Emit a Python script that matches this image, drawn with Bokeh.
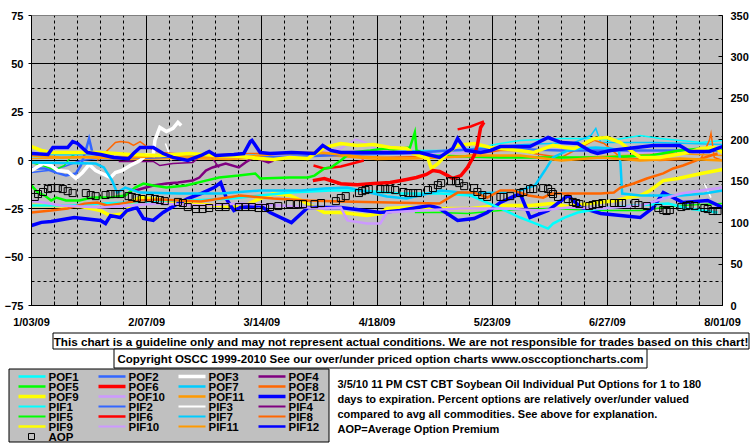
import math
from bokeh.plotting import figure
from bokeh.models import Range1d, LinearAxis, FixedTicker
from bokeh.layouts import column
from bokeh.embed import file_html
from bokeh.resources import INLINE
from bokeh.core.properties import value

NaN = float("nan")

# ---------------- axes / labels ----------------
x_tick_days = [0, 35, 70, 105, 140, 175, 210]
x_tick_labels = ["1/03/09", "2/07/09", "3/14/09", "4/18/09", "5/23/09", "6/27/09", "8/01/09"]
left_ticks = [-75, -50, -25, 0, 25, 50, 75]
right_ticks = [0, 50, 100, 150, 200, 250, 300, 350]

# ---------------- series (day offset from 1/03/09, percent) ----------------
POF1 = [(0,-23.3),(12,-23.3),(21,-22.3),(30,-21.7),(39,-20.7),(48.5,-20.7),(60.5,-19.7),(69.5,-18.1),(78.5,-16.6),(91,-15.5),(100,-15.5),(112,-17.1),(124.5,-17.1),(133.5,-18.1),(142.5,-24.8),(148.5,-29.5),(152.5,-32.1),(157,-35.2),(158.5,-32.6),(162,-29.5),(166,-26.9),(173,-24.8),(183,-23.3),(193.5,-22.3),(199.5,-24.8),(208.5,-26.9)]
POF2 = [(0,-4.1),(4,-4.1),(7.5,-6.2),(10.5,-7.8),(13.5,-6.7),(15,-2.6),(16.5,5.2),(17.5,11.4),(18.5,4.1),(21,2.1),(30,1.6),(36,1.6),(51.5,2.6),(66.5,1.6),(82,2.1),(97,3.1),(112,3.6),(127,5.2),(142.5,6.2),(161,5.2),(179,5.2),(197,5.2),(210,5.2)]
POF3 = [(0,-5.2),(3.5,-1.6),(6,-2.6),(8,-5.2),(11,-5.7),(13.5,-9.3),(15.5,-6.2),(17.5,-2.1),(19.5,-5.2),(22,-7.2),(24,-8.8),(25.5,-6.2),(27.5,-5.2),(30,-2.6),(33,0),(35,3.1),(37,2.6),(37.5,10.4),(39,17.1),(41,15),(43,16.6),(44.5,19.7),(45.5,18.1)]
POF4 = [(31.5,-15.5),(37,-12.9),(41,-11.9),(44.5,-11.4),(49,-10.4),(51,-8.8),(53,-5.2),(55,-3.6),(59,-1.6),(63,-3.6),(65,-1),(67.5,1.6),(72,-1),(73.5,0)]
POF5 = [(0,-13),(2,-16.6),(4,-18.1),(6,-20.7),(7.5,-19.2),(10.5,-20.7),(14.5,-20.7),(18.5,-19.2),(23.5,-19.2),(28.5,-18.1),(31.5,-14),(34,-11.9),(37,-12.9),(41,-14),(47,-12.9),(53,-10.4),(57,-8.8),(63,-7.8),(68,-6.7),(69.5,-9.3),(78.5,-8.8),(84,-8.8),(86,-7.8),(89,-4.1),(91,-3.6),(94,0),(97,4.1),(103,5.2),(107.5,6.2),(110,5.7),(115,6.7),(116.5,14.5),(117,5.2),(121,2.6),(142.5,1.6),(173,1.6),(188,2.6),(197,5.2),(203.5,6.2),(210,5.2)]
POF6 = [(85.5,-10.4),(89,-9.3),(94,-12),(99,-12.5),(104,-11.9),(109,-11.4),(114,-9.8),(117,-8.8),(120,-7.2),(122,-5.2),(124,-5.7),(126.5,-7.8),(128,-9.3),(130.5,-7.8),(132.5,-3.6),(134.5,2.6),(135.5,7.8),(136.5,17.1),(137.5,19.7)]
POF7 = [(0,-1),(19.5,-1.6),(22,-3.6),(24.5,-10.4),(26,-16.6),(28.5,-14),(33,-16.6),(45,-17.1),(57.5,-17.1),(69.5,-15.5),(82,-15.5),(89,-14.5),(96,-14),(108,-18.6),(114,-19.7),(124.5,-15.5),(133.5,-17.1),(142.5,-16.6),(148.5,-15.5),(153,-12.9),(156,-5.2),(158.5,1.6),(163,5.2),(167,6.2),(171.5,6.7),(176,6.2),(178.5,5.2),(179,-1.6),(179.5,-17.1),(185,-18.1),(197.5,-18.1),(204.5,-17.1),(210,-15.5)]
POF8 = [(0,-26.9),(6,-25.9),(11,-24.8),(16,-22.3),(20,-21.7),(23,-23.3),(27,-22.3),(33,-20.7),(39,-20.2),(45,-20.7),(51.5,-21.2),(57.5,-19.7),(63.5,-18.1),(73.5,-19.7),(84,-20.7),(94,-21.2),(109,-21.7),(124,-22.3),(129.5,-16.6),(134.5,-16.6),(138.5,-19.2),(142.5,-15.5),(146.5,-15.5),(151,-18.1),(155.5,-19.2),(158,-17.1),(173,-17.1),(177,-16.6),(179,-14),(183,-11.9),(187,-9.3),(192,-6.7),(195,-4.1),(198,-2.6),(203.5,1),(206.5,2.6),(208.5,3.6)]
POF9 = [(0,7.2),(3,5.2),(6,4.1),(12,4.1),(21,4.1),(30,3.1),(39,2.6),(48,3.6),(56,2.6),(63.5,2.1),(69.5,1),(73.5,0.5),(78.5,1.6),(84,1),(89,6.7),(94,8.8),(99,7.8),(104,8.3),(109,6.7),(114,6.2),(116,3.6),(120.5,1),(121.5,-4.1),(123.5,-1.6),(126.5,4.1),(129.5,7.8),(134.5,8.8),(139.5,6.7),(142.5,6.2),(148.5,5.2),(152.5,4.1),(158.5,7.8),(162,6.7),(165,6.2),(171,11.4),(175,11.9),(179,9.3),(182,5.2),(185,1.6),(191,1.6),(199.5,4.1),(203.5,6.2),(207.5,6.7),(210,4.1)]
POF10 = [(0,-20.7),(9,-23.3),(21,-24.3),(30,-23.3),(39,-22.3),(51.5,-23.3),(63.5,-22.3),(75.5,-23.3),(88,-24.8),(94,-24.3),(96,-31),(102,-32.6),(106,-32.6),(108,-26.9),(118,-25.9),(130.5,-24.8),(142.5,-24.8),(155,-25.9),(163,-24.3),(173,-24.8),(185,-23.3),(197.5,-17.1),(203.5,-15.5),(210,-14)]
POF11 = [(0,2.6),(9,1.6),(21,2),(30,1.6),(42,2.6),(51.5,1.6),(63.5,1.6),(75.5,3.6),(88,4.1),(100,2),(112,1),(124,1.6),(136.5,2.6),(148.5,2.6),(161,0),(173,1.6),(185,0),(197,1),(210,0)]
POF12 = [(0,3.6),(5,3.1),(6.5,6.7),(11,6.7),(12.5,9.8),(14,8.8),(17,4.1),(21,3.1),(25,1.6),(29.5,0.9),(31,3.6),(33,6.7),(37,6.7),(40,3.6),(43,1.6),(47.5,0),(51.5,2.6),(54,4.7),(56,2.6),(61.5,3.1),(64.5,3.6),(66.5,9.8),(67,10.4),(69.5,4.1),(72.5,3.6),(79,4.1),(86,3.6),(88.5,7.8),(91,5.2),(94,4.1),(106,4.1),(118,4.1),(124,1.6),(128,6.2),(129.5,11.4),(132,5.2),(136.5,4.1),(139.5,5.2),(142.5,7.2),(151.5,7.2),(157,11.9),(161,9.3),(166,8.8),(170,4.7),(172,3.6),(176,5.2),(189,7.8),(197,7.8),(200,4.7),(206,4.7),(210,7.2)]

PIF1 = [(0,1.6),(9,1),(21,2.1),(33,1.6),(45,2.6),(57.5,2.6),(69.5,3.1),(82,3.6),(94,4.1),(106,4.1),(118,5.2),(130.5,5.2),(142.5,8.8),(148.5,10.4),(161,11.4),(171,11.4),(176,10.4),(185,12.9),(191,11.4),(203.5,9.3),(210,10.4)]
PIF2 = [(0,-6.2),(5,-5.2),(10,-3.1),(15,0),(20,1),(30,0.5),(45,1.6)]
PIF3 = [(40.7,8.8),(41.5,5.2),(42.5,0),(NaN,NaN),(204.5,-12),(205.5,-15.5),(206.5,-19.2)]
PIF4 = [(26.5,-0.5),(31.5,-0.5),(37,-0.5),(39,-2.6),(43,-1.6),(49,-1),(51,1.6),(53,4.1),(55,1),(57,-3.6)]
PIF5 = [(0,-1),(4,-3),(7,-5),(10,-2.6),(12,2),(14,4),(NaN,NaN),(116.5,-26.9),(124,-26.9),(132.5,-27.4),(142.5,-25.9),(157,-24.8),(173,-25.9),(185,-25.9),(197,-23.3),(210,-22.3)]
PIF6 = [(85.7,-2.6),(88.8,-4.1),(94,-3.1),(101,0),(NaN,NaN),(129.5,16.1),(133.5,17.6),(137.5,20.2)]
PIF7 = [(0,3),(30,3),(60,2.6),(90,3.6),(120,4.1),(150,8.3),(165,9.3),(170,13),(171.5,16.6),(173,9.3),(190,9.3),(210,8.3)]
PIF8 = [(20,0),(25.5,9.3),(27,9.8),(29.5,9.3),(31,7.8),(33,9.8),(35.5,6.7),(39,4.1),(51.5,2.6),(66.5,3.6),(82,4.1),(94,2.6),(106,1.6),(118,2.1),(130.5,2.1),(142.5,5.2),(148.5,5.2),(152.5,3.6),(161,1.6),(171,10.4),(174,8.8),(179,1.6),(191,0),(203.5,1),(206,10.4),(206.5,14),(207.5,1.6),(210,0)]
PIF9 = [(0,-23.3),(6,-23.3),(15,-23.8),(21,-25.9),(24,-28.5),(28.5,-27.4),(31,-20.7),(33,-19.2),(39,-20.2),(44.5,-22.3),(51.5,-22.8),(57.5,-23.3),(63.5,-24.3),(68,-20.7),(73.5,-17.1),(78.5,-18.1),(82,-20.7),(89,-26.9),(94,-26.9),(102,-28.5),(106,-27.4),(108,-24.8),(114,-24.3),(124,-24.8),(133.5,-24.8),(142.5,-23.3),(151.5,-23.3),(158,-22.3),(163,-23.8),(169,-22.3),(178,-20.7),(181,-19.2),(185,-18.1),(188,-15.5),(192,-10.4),(196.5,-9.3),(203.5,-6.7),(210,-4.7)]
PIF10 = [(0,1),(15,1.6),(27,2.6),(39,2.1),(51.5,3.1),(69.5,2.6),(82,2.6),(94,6.2),(98.5,10.9),(101.5,9.3),(106,4.1),(118,3.1),(130.5,4.1),(142.5,6.2),(152.5,5.2),(163.5,6.2),(173,5.2),(184.5,4.1),(199.5,3.6),(210,2.6)]
PIF11 = [(0,1),(15,1.6),(30,0.5),(45,1),(60,0.5),(75,1.6),(90,2.6),(105,0.5),(120,1),(135,2.6),(150,2.1),(165,1.6),(180,2.6),(195,3.6),(210,2.6)]
PIF12 = [(0,-33.6),(3,-32),(6,-31.6),(13,-29.5),(21,-31),(22.5,-32.6),(24,-28.5),(27,-29.5),(29,-25.9),(32,-24.3),(34,-30),(37,-31),(40,-26.9),(44.5,-22.3),(47.5,-19.7),(51.5,-17.1),(55.5,-14),(57.5,-11.4),(59.5,-20.7),(61.5,-25.9),(63.5,-24.3),(69.5,-23.3),(72.5,-26.9),(79,-32.1),(82,-27.4),(84,-24.3),(94,-24.3),(106,-26.9),(112,-25.9),(121,-23.3),(124,-24.8),(129.5,-31),(134.5,-30),(138.5,-26.9),(142.5,-21.7),(148.5,-17.1),(151.5,-29.5),(157,-25.9),(163,-18.1),(167,-24.3),(173,-27.4),(185,-29.5),(189,-24.3),(192,-16.6),(198,-21.7),(205.5,-20.7),(210,-24.3)]

# Average option premium (right axis)
AOP = [(1,131),(2,134.5),(3.5,137),(5,140.5),(6,141.7),(8,141.7),(9.5,140.5),(11,138),(12.5,135.7),(16.5,135.7),(18,133.3),(19.5,132),(22.5,133.3),(24,134.5),(25.5,134.5),(27,134.5),(29.5,132),(30.5,131),(32,129.7),(33.5,128.5),(36,129.7),(37.5,128.5),(39,127.3),(40.5,126),(44.5,125),(46,123.7),(47.5,118.8),(50,116.4),(52,116.4),(54,117.6),(57,118.8),(59,118.8),(63,118.8),(65,118.8),(67,118.8),(69,117.6),(71,117.6),(72.5,118.8),(75,120),(78.5,122.4),(81,122.4),(82.5,122.4),(86,122.4),(88,123.7),(92.5,126),(94,129.7),(95.5,132),(99.5,135.7),(100.5,138),(101.5,139.3),(102.5,140.5),(106,140.5),(107.5,140.5),(109,140.5),(110.5,139.3),(113,137),(114.5,135.7),(116,135.7),(117.5,135.7),(120.5,139.3),(122,141.7),(123.5,145.3),(124.5,147.7),(127.5,150),(129,150),(130,147.7),(131.5,144),(134.5,141.7),(135.5,137),(137,133.3),(138.5,131),(142.5,131),(143.5,131),(145.5,132),(148.5,135.7),(149.5,137),(151.5,140.5),(152.5,140.5),(155.5,141.7),(157,140.5),(158,137),(158.5,134.5),(160,131),(163,128.5),(164.5,125),(165.5,123.7),(166.5,122.4),(169.5,120),(170.5,121.2),(171.5,122.4),(172.5,122.4),(173.5,123.7),(177,123.7),(178.5,123.7),(179.5,123.7),(183.5,123.7),(184.5,121.2),(187,120),(190.5,117.6),(192,115.2),(193,114),(194,115.2),(197.5,118.8),(199,120),(200,121.2),(201.5,120),(204.5,117.6),(205.5,116.4),(207,114),(208.5,114)]

# name, data, colour, plot width, legend width
SERIES = [
    ("POF1", POF1, "#00FFFF", 2.5, 2), ("POF2", POF2, "#3366FF", 2.5, 2),
    ("POF3", POF3, "#FFFFFF", 3.5, 3), ("POF4", POF4, "#800080", 2.5, 2),
    ("POF5", POF5, "#00FF00", 2.5, 2), ("POF6", POF6, "#FF0000", 3.5, 3),
    ("POF7", POF7, "#00CCFF", 2.5, 2), ("POF8", POF8, "#FF6600", 2.5, 2),
    ("POF9", POF9, "#FFFF00", 3.5, 3), ("POF10", POF10, "#CC99FF", 2.5, 2),
    ("POF11", POF11, "#FF9900", 2.5, 2), ("POF12", POF12, "#0000FF", 3.5, 3),
    ("PIF1", PIF1, "#00FFFF", 1.5, 1.5), ("PIF2", PIF2, "#3366FF", 1.5, 1.5),
    ("PIF3", PIF3, "#FFFFFF", 1.5, 1.5), ("PIF4", PIF4, "#800080", 1.5, 1.5),
    ("PIF5", PIF5, "#00FF00", 1.5, 1.5), ("PIF6", PIF6, "#FF0000", 2.5, 2),
    ("PIF7", PIF7, "#00CCFF", 1.5, 1.5), ("PIF8", PIF8, "#FF6600", 1.5, 1.5),
    ("PIF9", PIF9, "#FFFF00", 3.5, 2), ("PIF10", PIF10, "#CC99FF", 1.5, 1.5),
    ("PIF11", PIF11, "#FF9900", 1.5, 1.5), ("PIF12", PIF12, "#0000FF", 3.5, 2),
]

FONT = "Liberation Sans"

disclaimer = "This chart is a guideline only and may not represent actual conditions. We are not responsible for trades based on this chart!"
copyright_txt = "Copyright OSCC 1999-2010 See our over/under priced option charts www.osccoptioncharts.com"
info_lines = [
    "3/5/10 11 PM CST CBT Soybean Oil Individual Put Options for 1 to 180",
    "days to expiration. Percent options are relatively over/under valued",
    "compared to avg all commodities. See above for explanation.",
    "AOP=Average Option Premium",
]

# ---------------- main chart ----------------
p = figure(width=755, height=331, x_range=Range1d(0, 210), y_range=Range1d(-75, 75),
           toolbar_location=None, output_backend="svg",
           min_border_left=31, min_border_right=33, min_border_top=15, min_border_bottom=26,
           background_fill_color="#C0C0C0", border_fill_color="white",
           outline_line_color="#808080")
p.frame_align = False
p.extra_y_ranges = {"right": Range1d(0, 350)}

x_minor = [d for d in range(7, 210, 7) if d % 35 != 0]
p.xaxis.ticker = FixedTicker(ticks=x_tick_days, minor_ticks=x_minor)
p.xaxis.major_label_overrides = {d: l for d, l in zip(x_tick_days, x_tick_labels)}
p.yaxis.ticker = FixedTicker(ticks=left_ticks, minor_ticks=[-62.5, -37.5, -12.5, 12.5, 37.5, 62.5])

p.xgrid.ticker = FixedTicker(ticks=x_tick_days[1:-1], minor_ticks=x_minor)
p.ygrid.ticker = FixedTicker(ticks=left_ticks[1:-1], minor_ticks=[-62.5, -37.5, -12.5, 12.5, 37.5, 62.5])
for g in (p.xgrid, p.ygrid):
    g.grid_line_color = "black"
    g.grid_line_width = 1
    g.minor_grid_line_color = "black"
    g.minor_grid_line_dash = "3 3"
    g.minor_grid_line_width = 1

ax_r = LinearAxis(y_range_name="right", ticker=FixedTicker(ticks=right_ticks))
p.add_layout(ax_r, "right")

for ax in (p.xaxis[0], p.yaxis[0], ax_r):
    ax.axis_line_color = "black"
    ax.major_tick_line_color = "black"
    ax.minor_tick_line_color = "black"
    ax.major_label_text_font = FONT
    ax.major_label_text_font_style = "bold"
    ax.major_label_text_font_size = "11px"
    ax.major_label_text_color = "black"

p.xaxis.major_tick_in = 5
p.xaxis.major_tick_out = 0
p.xaxis.minor_tick_in = 4
p.xaxis.minor_tick_out = 0
p.xaxis.major_label_standoff = 10

p.yaxis.major_tick_in = 0
p.yaxis.major_tick_out = 3
p.yaxis.minor_tick_in = 0
p.yaxis.minor_tick_out = 0
p.yaxis.major_label_standoff = 5

ax_r.major_tick_in = 4
ax_r.major_tick_out = 0
ax_r.minor_tick_in = 0
ax_r.minor_tick_out = 0
ax_r.major_label_standoff = 8

def split(pairs):
    return [a for a, b in pairs], [b for a, b in pairs]

by_name = {s[0]: s for s in SERIES}
draw_order = ["PIF1", "PIF2", "PIF3", "PIF4", "PIF5", "PIF7", "PIF8", "PIF10", "PIF11",
              "PIF9", "PIF6", "PIF12",
              "POF1", "POF2", "POF3", "POF4", "POF5", "POF7", "POF8", "POF10", "POF11",
              "POF9", "POF6", "POF12"]
for name in draw_order:
    _, data, col, w, lw = by_name[name]
    xs, ys = split(data)
    p.line(xs, ys, line_color=col, line_width=w, line_join="miter")

ax_x, ax_y = split(AOP)
p.scatter(ax_x, ax_y, marker="square", size=7, fill_alpha=0, line_color="black",
          line_width=1, y_range_name="right")

# ---------------- lower panel (page pixel coords) ----------------
q = figure(width=755, height=115, x_range=Range1d(0, 755), y_range=Range1d(446, 331),
           toolbar_location=None, output_backend="svg", min_border=0,
           x_axis_type=None, y_axis_type=None, outline_line_color=None,
           background_fill_color="white", border_fill_color="white")
q.frame_align = False

q.quad(left=[52.5], right=[748.5], top=[332.5], bottom=[348.5], fill_color="white", line_color="black", line_width=1)
q.quad(left=[113.5], right=[646.5], top=[348.5], bottom=[367.5], fill_color="white", line_color="black", line_width=1)
q.quad(left=[8.5], right=[328.5], top=[368.5], bottom=[441.5], fill_color="#C0C0C0", line_color="black", line_width=1)

txt = dict(text_font=value(FONT), text_font_style="bold", text_color="black", text_baseline="middle")
q.text(x=[400.5], y=[340.5], text=[disclaimer], text_align="center", text_font_size="11.7px", **txt)
q.text(x=[380], y=[358], text=[copyright_txt], text_align="center", text_font_size="11.5px", **txt)
q.text(x=[337] * 4, y=[383, 398, 413, 428], text=info_lines, text_align="left", text_font_size="11px", **txt)

# legend: 4 columns, row-major
for i, (name, data, col, w, lw) in enumerate(SERIES):
    r, c = divmod(i, 4)
    yy = 376 + 10 * r
    x0 = 18 + 80 * c
    q.segment(x0=[x0], y0=[yy], x1=[x0 + 27], y1=[yy], line_color=col, line_width=lw + 0.5)
    q.text(x=[x0 + 30], y=[yy + 0.5], text=[name], text_align="left", text_font_size="11.5px", **txt)

q.scatter([31], [436], marker="square", size=6, fill_alpha=0, line_color="black", line_width=1)
q.text(x=[48], y=[436.5], text=["AOP"], text_align="left", text_font_size="11.5px", **txt)

layout = column(p, q, spacing=0)
open("out.html", "w").write(file_html(layout, INLINE))
